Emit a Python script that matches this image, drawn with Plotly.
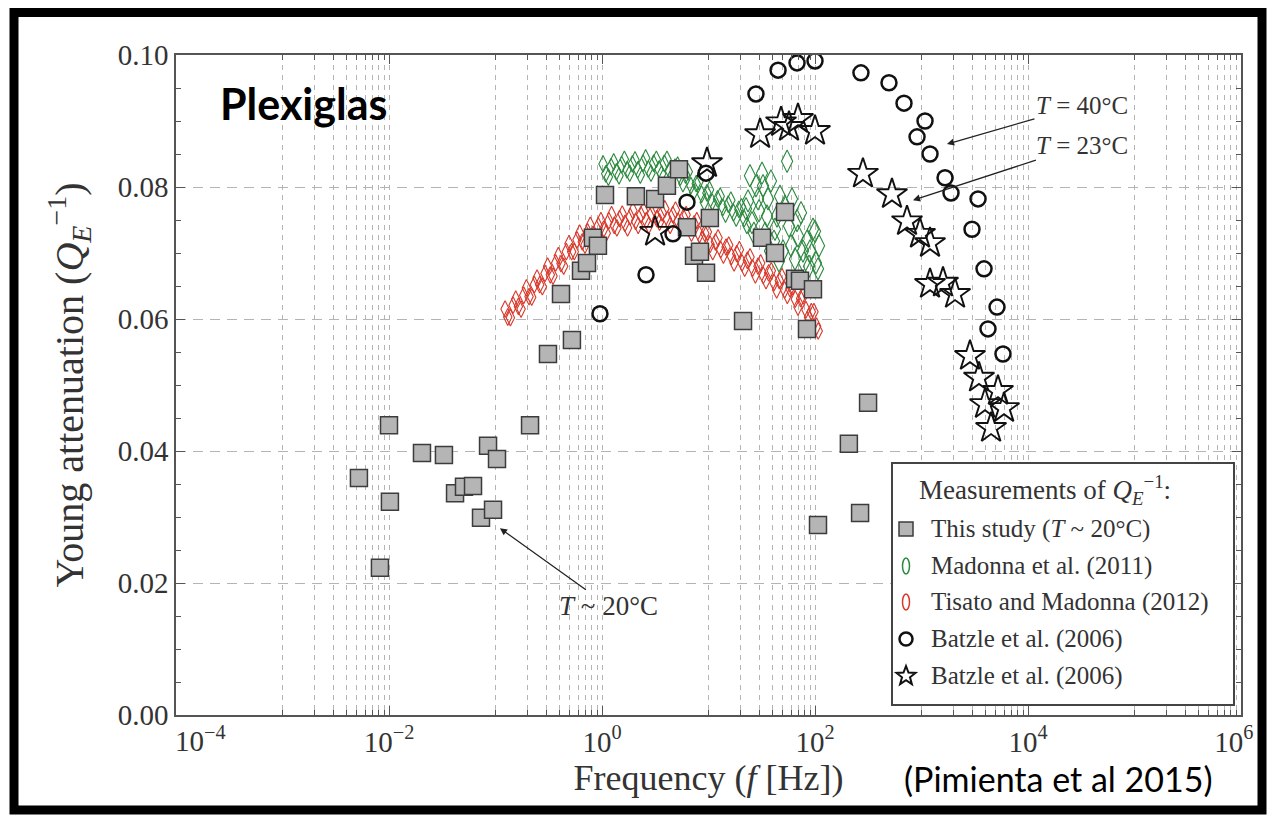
import math
import plotly.graph_objects as go

# ---------------- data ----------------
# This study (T ~ 20 C): frequency [Hz], Young attenuation
square_f = [0.00522, 0.00822, 0.0100, 0.0102, 0.0204, 0.0328, 0.0417, 0.0506, 0.0615, 0.0731,
            0.0851, 0.0948, 0.1033, 0.211, 0.311, 0.412, 0.522, 0.635, 0.723, 0.822,
            0.916, 1.067, 2.08, 3.15, 4.07, 5.28, 6.28, 7.31, 8.32, 9.48,
            10.3, 21.1, 31.8, 42.1, 52.3, 64.9, 72.3, 84.1, 95.7, 106.7,
            208, 265, 315]
square_q = [0.0359, 0.0223, 0.0439, 0.0323, 0.0397, 0.0394, 0.0336, 0.0346, 0.0347, 0.0299,
            0.0408, 0.0311, 0.0388, 0.0439, 0.0547, 0.0638, 0.0568, 0.0673, 0.0685, 0.0723,
            0.0711, 0.0788, 0.0786, 0.0782, 0.0802, 0.0827, 0.0739, 0.0696, 0.0702, 0.0670,
            0.0753, 0.0597, 0.0723, 0.0700, 0.0762, 0.0661, 0.0658, 0.0585, 0.0645, 0.0288,
            0.0411, 0.0306, 0.0473]

# Madonna et al. (2011): two interleaved sweeps, plus the scattered high-frequency part
madonna_a_f = [1.023, 1.148, 1.288, 1.445, 1.622, 1.820, 2.042, 2.291, 2.570, 2.884,
               3.236, 3.631, 4.074, 4.571, 5.129, 5.754, 6.457, 7.244, 8.128, 9.120,
               10.23, 11.48, 12.88, 14.45, 16.22, 18.20, 20.42, 22.91]
madonna_a_q = [0.0835, 0.0815, 0.0838, 0.0817, 0.0842, 0.0821, 0.0841, 0.0818, 0.0844, 0.0821,
               0.0842, 0.0820, 0.0842, 0.0818, 0.0833, 0.0805, 0.0823, 0.0792, 0.0808, 0.0777,
               0.0796, 0.0770, 0.0786, 0.0759, 0.0780, 0.0753, 0.0770, 0.0742]
madonna_b_f = [1.084, 1.216, 1.365, 1.531, 1.718, 1.928, 2.163, 2.427, 2.723, 3.055,
               3.428, 3.846, 4.315, 4.842, 5.433, 6.095, 6.839, 7.674, 8.610, 9.661,
               10.84, 12.16, 13.65, 15.31, 17.18, 19.28, 21.63]
madonna_b_q = [0.0820, 0.0831, 0.0823, 0.0834, 0.0826, 0.0835, 0.0826, 0.0836, 0.0827, 0.0836,
               0.0827, 0.0836, 0.0824, 0.0830, 0.0815, 0.0818, 0.0802, 0.0805, 0.0789, 0.0791,
               0.0777, 0.0782, 0.0769, 0.0774, 0.0761, 0.0766, 0.0752]
madonna_hf_f = [23.5, 25.6, 27.9, 29.8, 31.8, 34.0, 36.2, 38.6, 41.2, 44.0,
                46.9, 50.1, 54.7, 57.0, 60.8, 64.9, 69.2, 73.9, 78.9, 84.1,
                89.7, 95.7, 102.1, 109.1, 22.5, 24.5, 26.7, 29.2, 32.5, 35.4,
                37.8, 42.1, 45.9, 52.2, 59.6, 67.8, 77.1, 87.9, 100.0, 106.7]
madonna_hf_q = [0.0779, 0.0746, 0.0802, 0.0764, 0.0821, 0.0730, 0.0782, 0.0809, 0.0718, 0.0756,
                0.0786, 0.0703, 0.0839, 0.0741, 0.0782, 0.0691, 0.0726, 0.0761, 0.0685, 0.0718,
                0.0703, 0.0736, 0.0685, 0.0711, 0.0767, 0.0817, 0.0730, 0.0782, 0.0802, 0.0756,
                0.0703, 0.0736, 0.0688, 0.0771, 0.0711, 0.0749, 0.0703, 0.0680, 0.0733, 0.0676]

# Tisato and Madonna (2012): two interleaved sweeps
tisato_a_f = [0.1230, 0.1380, 0.1549, 0.1738, 0.1950, 0.2188, 0.2455, 0.2754, 0.3090, 0.3467,
              0.3890, 0.4365, 0.4898, 0.5495, 0.6166, 0.6918, 0.7762, 0.8710, 0.9772, 1.096,
              1.230, 1.380, 1.549, 1.738, 1.950, 2.188, 2.455, 2.754, 3.090, 3.467,
              3.890, 4.365, 4.898, 5.495, 6.166, 6.918, 7.762, 8.710, 9.772, 10.96,
              12.30, 13.80, 15.49, 17.38, 19.50, 21.88, 24.55, 27.54, 30.90, 34.67,
              38.90, 43.65, 48.98, 54.95, 61.66, 69.18, 77.62, 87.10, 97.72, 107.2]
tisato_a_q = [0.0615, 0.0602, 0.0630, 0.0615, 0.0647, 0.0633, 0.0662, 0.0649, 0.0680, 0.0665,
              0.0696, 0.0680, 0.0714, 0.0702, 0.0730, 0.0712, 0.0742, 0.0724, 0.0749, 0.0730,
              0.0758, 0.0738, 0.0759, 0.0738, 0.0764, 0.0742, 0.0764, 0.0742, 0.0768, 0.0747,
              0.0767, 0.0742, 0.0765, 0.0741, 0.0758, 0.0730, 0.0749, 0.0720, 0.0732, 0.0702,
              0.0723, 0.0697, 0.0712, 0.0685, 0.0705, 0.0677, 0.0694, 0.0667, 0.0685, 0.0658,
              0.0673, 0.0644, 0.0664, 0.0636, 0.0649, 0.0618, 0.0635, 0.0603, 0.0611, 0.0582]
tisato_b_f = [0.1303, 0.1462, 0.1641, 0.1841, 0.2065, 0.2317, 0.2600, 0.2917, 0.3273, 0.3673,
              0.4121, 0.4624, 0.5188, 0.5821, 0.6531, 0.7328, 0.8222, 0.9226, 1.035, 1.161,
              1.303, 1.462, 1.641, 1.841, 2.065, 2.317, 2.600, 2.917, 3.273, 3.673,
              4.121, 4.624, 5.188, 5.821, 6.531, 7.328, 8.222, 9.226, 10.35, 11.61,
              13.03, 14.62, 16.41, 18.41, 20.65, 23.17, 26.00, 29.17, 32.73, 36.73,
              41.21, 46.24, 51.88, 58.21, 65.31, 73.28, 82.22, 92.26, 103.5]
tisato_b_q = [0.0603, 0.0621, 0.0619, 0.0636, 0.0634, 0.0652, 0.0652, 0.0669, 0.0667, 0.0685,
              0.0684, 0.0702, 0.0702, 0.0720, 0.0717, 0.0732, 0.0728, 0.0741, 0.0736, 0.0749,
              0.0742, 0.0752, 0.0745, 0.0755, 0.0748, 0.0758, 0.0749, 0.0760, 0.0752, 0.0761,
              0.0751, 0.0758, 0.0748, 0.0754, 0.0740, 0.0744, 0.0728, 0.0730, 0.0713, 0.0717,
              0.0705, 0.0709, 0.0695, 0.0699, 0.0685, 0.0689, 0.0677, 0.0680, 0.0666, 0.0670,
              0.0655, 0.0658, 0.0644, 0.0646, 0.0630, 0.0631, 0.0614, 0.0611, 0.0589]

# Batzle et al. (2006), T = 40 C
batzle40_f = [0.957, 2.59, 4.64, 6.28, 9.48, 27.9, 45.0, 67.8, 100, 270,
              495, 685, 908, 1079, 1202, 1663, 1892, 2979, 3396, 3864,
              4209, 5117, 5821]
batzle40_q = [0.0608, 0.0667, 0.0729, 0.0777, 0.0821, 0.0941, 0.0977, 0.0988, 0.0991, 0.0973,
              0.0958, 0.0927, 0.0876, 0.0900, 0.0850, 0.0814, 0.0791, 0.0736, 0.0782, 0.0676,
              0.0585, 0.0618, 0.0547]

# Batzle et al. (2006), T = 23 C
batzle23_f = [3.15, 9.68, 30.5, 48.0, 57.0, 69.2, 100, 282, 528, 731,
              968, 1202, 1202, 1592, 2065, 2853, 3467, 3946, 4498, 5224,
              5957]
batzle23_q = [0.0732, 0.0836, 0.0880, 0.0898, 0.0891, 0.0903, 0.0885, 0.0820, 0.0789, 0.0748,
              0.0729, 0.0715, 0.0653, 0.0655, 0.0638, 0.0544, 0.0511, 0.0471, 0.0435, 0.0491,
              0.0465]

NB = "\u00a0"
x_tickvals = [1e-4, 1e-2, 1e0, 1e2, 1e4, 1e6]
# the first decade label is drawn separately, nudged clear of the y-axis labels
x_ticktext = ["", "10<sup>\u22122</sup>", "10<sup>0</sup>",
              "10<sup>2</sup>", "10<sup>4</sup>", "10<sup>6</sup>" + NB * 2]
x_first_label = "10<sup>\u22124</sup>"
y_tickvals = [0.00, 0.02, 0.04, 0.06, 0.08, 0.10]

legend_labels = ["This study (<i>T</i> ~ 20°C)", "Madonna et al. (2011)",
                 "Tisato and Madonna (2012)", "Batzle et al. (2006)", "Batzle et al. (2006)"]

# ---------------- styles ----------------
SERIF = "Liberation Serif"
SANS = "Lato"
TXT = "#333333"
AX = "#555555"
GRID = "#b4b4b4"
GREEN = "#2b8a3e"
RED = "#d8392b"
SQ_FILL = "#b5b5b5"
SQ_EDGE = "#3c3c3c"

W, H = 1268, 818
ML, MR, MT, MB = 176, 27, 55, 103
PW, PH = W - ML - MR, H - MT - MB


def px_x(p):
    return (p - ML) / PW


def px_y(p):
    return (H - MB - p) / PH


def ellipse_marks(xs, ys, color, size):
    return go.Scatter(x=xs, y=ys, mode="markers", showlegend=False,
                      marker=dict(symbol="diamond-tall-open", size=size, color=color,
                                  line=dict(width=1.1, color=color)))


fig = go.Figure()
fig.add_trace(ellipse_marks(tisato_a_f, tisato_a_q, RED, 12))
fig.add_trace(ellipse_marks(tisato_b_f, tisato_b_q, RED, 12))
fig.add_trace(ellipse_marks(madonna_a_f, madonna_a_q, GREEN, 12))
fig.add_trace(ellipse_marks(madonna_b_f, madonna_b_q, GREEN, 12))
fig.add_trace(ellipse_marks(madonna_hf_f, madonna_hf_q, GREEN, 16))

fig.add_trace(go.Scatter(x=square_f, y=square_q, mode="markers", showlegend=False,
                         marker=dict(symbol="square", size=17, color=SQ_FILL,
                                     line=dict(width=1.5, color=SQ_EDGE))))
fig.add_trace(go.Scatter(x=batzle40_f, y=batzle40_q, mode="markers", showlegend=False,
                         marker=dict(symbol="circle-open", size=15, color="#111111",
                                     line=dict(width=2.5, color="#111111"))))
fig.add_trace(go.Scatter(x=batzle23_f, y=batzle23_q, mode="markers", showlegend=False,
                         marker=dict(symbol="star-open", size=23, color="#111111",
                                     line=dict(width=1.9, color="#111111"))))

minor_x = [k * 10.0 ** n for n in (-3, -1, 1, 3, 5) for k in range(1, 10)]

fig.update_xaxes(
    type="log", range=[-4, 6],
    tickmode="array", tickvals=x_tickvals, ticktext=x_ticktext,
    ticks="inside", ticklen=9, tickwidth=1.3, tickcolor=AX,
    showline=True, linecolor=AX, linewidth=1.5, mirror="allticks",
    showgrid=True, gridcolor=GRID, gridwidth=1.2, griddash="5px,5px",
    zeroline=False,
    tickfont=dict(family=SERIF, size=29, color=TXT),
    title=dict(text="Frequency (<i>f</i> [Hz])", font=dict(family=SERIF, size=36, color=TXT),
               standoff=2),
    minor=dict(tickmode="array", tickvals=minor_x, ticks="inside", ticklen=5,
               tickcolor=AX, showgrid=True, gridcolor=GRID, gridwidth=1.2,
               griddash="5px,5px"),
)
fig.update_yaxes(
    range=[0, 0.1], tickmode="array", tickvals=y_tickvals, tickformat=".2f",
    ticks="inside", ticklen=9, tickwidth=1.3, tickcolor=AX,
    showline=True, linecolor=AX, linewidth=1.5, mirror="allticks",
    showgrid=True, gridcolor=GRID, gridwidth=1.2, griddash="10px,7px",
    zeroline=False,
    tickfont=dict(family=SERIF, size=29, color=TXT),
    title=dict(text="Young attenuation (<i>Q</i><sub><i>E</i></sub><sup>\u22121</sup>)",
               font=dict(family=SERIF, size=40, color=TXT), standoff=22),
    minor=dict(dtick=0.005, ticks="inside", ticklen=5, tickcolor=AX, showgrid=False),
)

shapes = []
annotations = []

# outer frame
shapes.append(dict(type="rect", xref="paper", yref="paper",
                   x0=px_x(14), x1=px_x(1262), y0=px_y(810), y1=px_y(12.5),
                   line=dict(color="black", width=9), layer="above"))

# legend box
shapes.append(dict(type="rect", xref="paper", yref="paper",
                   x0=px_x(892), x1=px_x(1234), y0=px_y(705), y1=px_y(463),
                   fillcolor="white", line=dict(color="#444444", width=2), layer="above"))

key_x = px_x(906)
row_y = [px_y(p) for p in (529, 566, 602, 639, 676)]


def key_shape(kind, yy, **kw):
    d = dict(type=kind, xref="paper", yref="paper", xsizemode="pixel", ysizemode="pixel",
             xanchor=key_x, yanchor=yy, layer="above")
    d.update(kw)
    return d


shapes.append(key_shape("rect", row_y[0], x0=-7, x1=7, y0=-7, y1=7, fillcolor=SQ_FILL,
                        line=dict(color=SQ_EDGE, width=1.5)))
shapes.append(key_shape("circle", row_y[1], x0=-3.5, x1=3.5, y0=-8, y1=8,
                        line=dict(color=GREEN, width=1.5)))
shapes.append(key_shape("circle", row_y[2], x0=-3.5, x1=3.5, y0=-8, y1=8,
                        line=dict(color=RED, width=1.5)))
shapes.append(key_shape("circle", row_y[3], x0=-6.5, x1=6.5, y0=-6.5, y1=6.5,
                        line=dict(color="#111111", width=2.5)))

# five-pointed star outline for the last key
pts = []
for i in range(10):
    r = 10 if i % 2 == 0 else 4.2
    a = math.pi / 2 + i * math.pi / 5
    pts.append((r * math.cos(a), r * math.sin(a)))
star_path = "M " + " L ".join(f"{x:.2f},{y:.2f}" for x, y in pts) + " Z"
shapes.append(key_shape("path", row_y[4], path=star_path,
                        line=dict(color="#111111", width=2)))

annotations.append(dict(xref="paper", yref="paper", x=px_x(917), y=px_y(490),
                        xanchor="left", yanchor="middle", showarrow=False,
                        text="Measurements of <i>Q</i><sub><i>E</i></sub><sup>\u22121</sup>:",
                        font=dict(family=SERIF, size=27, color=TXT)))
for label, yy in zip(legend_labels, row_y):
    annotations.append(dict(xref="paper", yref="paper", x=px_x(929), y=yy,
                            xanchor="left", yanchor="middle", showarrow=False, text=label,
                            font=dict(family=SERIF, size=25, color=TXT)))

# first x tick label
annotations.append(dict(xref="paper", yref="paper", x=px_x(200), y=px_y(719),
                        xanchor="center", yanchor="top", showarrow=False, text=x_first_label,
                        font=dict(family=SERIF, size=29, color=TXT)))

# temperature call-outs
arrow_style = dict(showarrow=True, arrowhead=2, arrowsize=1.1, arrowwidth=1.3,
                   arrowcolor="#222222", xref="x", yref="y")
annotations.append(dict(x=math.log10(1734), y=0.0865, ax=135, ay=-39,
                        text="<i>T</i> = 40°C", font=dict(family=SERIF, size=25, color=TXT),
                        **arrow_style))
annotations.append(dict(x=math.log10(832), y=0.0780, ax=169, ay=-55,
                        text="<i>T</i> = 23°C", font=dict(family=SERIF, size=25, color=TXT),
                        **arrow_style))
annotations.append(dict(x=math.log10(0.110), y=0.0283, ax=109, ay=78,
                        text="<i>T</i> ~ 20°C", font=dict(family=SERIF, size=27, color=TXT),
                        **arrow_style))

annotations.append(dict(xref="paper", yref="paper", x=px_x(218), y=px_y(104),
                        xanchor="left", yanchor="middle", showarrow=False,
                        text="<b>Plexiglas</b>", font=dict(family=SANS, size=43, color="black")))
annotations.append(dict(xref="paper", yref="paper", x=px_x(902), y=px_y(778),
                        xanchor="left", yanchor="middle", showarrow=False,
                        text="(Pimienta et al 2015)", font=dict(family=SANS, size=34, color="black")))

fig.update_layout(
    width=W, height=H,
    margin=dict(l=ML, r=MR, t=MT, b=MB, autoexpand=False),
    paper_bgcolor="white", plot_bgcolor="white",
    showlegend=False,
    shapes=shapes, annotations=annotations,
)

fig.write_html("out.html")
